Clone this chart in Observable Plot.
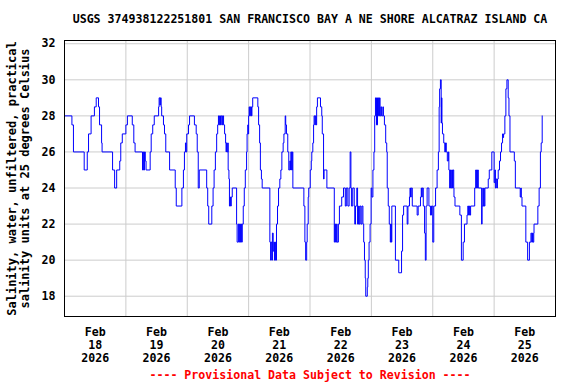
<!DOCTYPE html>
<html><head><meta charset="utf-8">
<script src="https://cdn.jsdelivr.net/npm/d3@7"></script>
<script src="https://cdn.jsdelivr.net/npm/@observablehq/plot@0.6"></script>
<style>body{margin:0;background:#fff;}</style>
</head><body><div id="chart"></div>
<script>
const title = "USGS 374938122251801 SAN FRANCISCO BAY A NE SHORE ALCATRAZ ISLAND CA";
const yLabelLines = ["Salinity, water, unfiltered, practical", "salinity units at 25 degrees Celsius"];
const caption = "---- Provisional Data Subject to Revision ----";
const monthLabel = "Feb";
const yearLabel = "2026";
const dayLabels = ["18", "19", "20", "21", "22", "23", "24", "25"];
const yTicks = [18, 20, 22, 24, 26, 28, 30, 32];

// hours since 2026-02-18 00:00 and salinity
const hours = [
0.0,2.9,3.5,7.7,8.9,9.4,10.4,11.7,12.4,13.3,13.7,14.5,14.7,18.8,19.6,20.4,21.6,22.0,22.6,24.0,
24.6,26.5,27.1,27.6,30.5,30.8,31.0,31.3,31.6,31.9,33.5,33.9,34.5,35.1,36.8,37.0,37.3,37.5,37.8,38.0,
38.7,39.1,39.6,41.1,43.3,43.7,45.9,46.5,46.9,47.3,47.5,47.8,48.5,48.9,50.8,51.5,51.9,52.3,52.7,55.6,
56.0,56.4,57.6,58.1,58.5,59.0,59.5,59.9,60.2,60.5,60.7,61.0,61.3,61.7,61.9,62.2,62.6,63.0,63.2,63.3,
63.6,63.9,64.0,64.3,64.5,64.8,65.0,65.2,65.6,67.3,67.5,68.0,68.3,68.5,68.8,69.1,69.3,69.5,69.9,70.3,
70.7,71.2,71.4,71.7,71.8,72.0,72.2,72.4,72.7,73.1,73.3,73.6,75.6,75.9,76.3,76.6,77.0,77.3,80.3,80.6,
80.8,81.1,81.3,81.6,81.9,82.1,82.4,82.6,82.9,83.3,83.7,84.2,84.6,85.0,85.5,85.8,86.3,86.5,86.8,87.3,
87.7,88.1,88.4,88.5,88.8,89.1,89.3,93.6,94.0,94.3,94.7,94.9,95.3,95.5,96.1,96.5,96.7,97.1,97.4,97.6,
97.9,98.1,98.4,98.6,98.9,100.1,100.6,100.8,101.3,101.5,102.6,105.5,105.7,106.0,106.4,106.6,107.1,107.5,108.4,109.1,
109.8,110.2,110.8,111.3,111.7,112.0,112.2,112.7,113.3,113.5,113.8,114.3,114.6,115.0,115.2,115.5,115.9,116.3,116.7,117.0,
117.3,117.6,117.8,118.4,118.6,118.8,119.1,119.5,119.9,120.2,120.6,121.0,121.3,121.6,122.0,122.4,122.8,123.2,123.4,123.7,
124.0,124.5,124.7,125.1,125.6,126.0,126.2,126.6,127.0,127.4,127.6,127.8,128.0,129.4,130.7,131.8,132.2,132.6,134.0,134.3,
134.9,135.1,135.3,135.6,136.0,137.9,138.3,139.2,139.5,139.7,139.9,140.3,140.8,141.1,141.4,141.8,142.5,143.1,143.5,144.0,
144.4,145.1,145.7,146.2,146.5,146.7,147.0,147.3,147.4,147.6,147.8,148.3,148.7,149.0,149.3,149.7,150.1,150.3,150.6,150.9,
151.1,151.4,151.7,151.9,152.2,152.3,152.7,154.6,155.2,155.9,156.4,157.4,157.7,158.0,158.3,158.5,158.8,160.4,160.8,161.0,
161.2,161.4,161.6,161.8,163.1,163.3,163.6,163.7,164.0,164.1,164.4,165.7,166.1,167.1,167.9,168.0,168.3,168.5,168.8,169.1,
169.3,169.6,170.1,170.5,170.9,171.3,171.5,171.7,172.2,172.6,173.0,173.5,173.8,174.2,175.9,176.3,178.2,178.5,178.6,178.9,
180.4,181.1,181.8,182.4,182.7,183.0,183.2,183.5,183.6,185.1,185.6,186.1,186.4,186.8
];
const salinity = [
28,27.5,26,25,26,27,28,28.5,29,28.5,27.5,26.5,26,25,24,25,25.5,26.5,27,27.5,
28,27.5,26.5,26,25,26,25,26,25.5,25,26,27,27.5,28,28.5,29,28.6,29,28.5,28,
27.5,27,26,25,24,23,24,25,26,26.5,26,27,27.5,28,27.5,27,26,24,25,24,
23,22,23,24,25,26,27,27.5,28,27.5,28,27.5,28,27.5,28,27.5,27,26.5,26,26.5,
26,26.5,25,24.5,23,23.5,23,23.5,24,22,21,22,21,22,21,22,21,22,23,24,
25,26,27,27.5,27,28,28.5,28,28.5,28,28.5,29,28.5,27.5,26.5,25,24.5,24,21,20,
21,20,21.5,20.5,21,20,21,20,22,23,24,24.5,25,26,26.5,27,28,27.5,27,26,
25,25.5,25,26,25,26,24,23,21,20,21,22,23.5,24,25,25.5,26,26.5,27.5,28,
27.5,28,27.5,28.5,29,28.5,28,27,24.5,25,24,21,22,21,22,21,22,23,23.5,24,
23,24,23,24,26,24,23,24,23,22,23,24,22,23,22,23,22,23,22,21,
20,19,18,18.5,19,20,21,22,24,23.5,25,26,28,29,27.5,29,28,29,28,28.5,
28,28.5,28,27.5,26.5,26,24,23,22,21,22,21,23,20,19.3,20.5,22.5,23,22,23,
23.5,24,23.5,24,23,22.5,23,23.5,24,23.5,24,23,21.5,20,23,24,23,22.5,23,21,
23,24,25,26,28.5,29.5,30,27.6,29,27.6,27,26.5,26,26.5,26,25.5,26,25,24,25,
24,25,24,25,24,23.5,23,22.5,20,21,22,22.5,23,22.5,23,22.5,23,24,25,24,
25,24,25,24,22,23,24,23,24,23,24,24.5,25,26,26,24.3,25,24,24.5,24,
24.5,25,25.5,26,26.5,27,26.8,27,28,29.5,30,29,28,26,25.5,24,23.5,24,23.5,23,
21,20,21,21.5,21,21.5,21,21.5,22,23,24,26,26.5,28
];

const t0 = Date.UTC(2026, 1, 18);
const DAY = 864e5;
const data = hours.map((h, i) => ({date: new Date(t0 + h * 3600e3), value: salinity[i]}));
const midnights = d3.range(1, dayLabels.length).map(d => new Date(t0 + d * DAY));
const noons = dayLabels.map((d, i) => new Date(t0 + (i + 0.5) * DAY));
const font = "'DejaVu Sans Mono', 'Liberation Mono', monospace";

const chart = Plot.plot({
  width: 576, height: 384,
  marginLeft: 64, marginRight: 21, marginTop: 40, marginBottom: 68,
  style: {fontFamily: font, fontSize: "11.6px", fontWeight: "bold", background: "#fff", color: "#000"},
  x: {type: "utc", domain: [new Date(t0), new Date(t0 + dayLabels.length * DAY)]},
  y: {domain: [16.875, 32.18]},
  marks: [
    Plot.gridX(midnights, {stroke: "#cccccc", strokeOpacity: 1}),
    Plot.gridY(yTicks, {stroke: "#cccccc", strokeOpacity: 1}),
    Plot.line(data, {x: "date", y: "value", stroke: "#0000ff", strokeWidth: 1, curve: "step-after"}),
    Plot.frame({stroke: "#000"}),
    Plot.axisY(yTicks, {tickSize: 0, tickPadding: 9, label: null, fill: "#000"}),
    Plot.axisX(noons, {
      tickSize: 0, tickPadding: 10, label: null, lineHeight: 1.12, fill: "#000",
      tickFormat: d => `${monthLabel}\n${dayLabels[Math.floor((d - t0) / DAY)]}\n${yearLabel}`
    }),
    Plot.text([yLabelLines.join("\n")], {frameAnchor: "left", dx: -46, rotate: -90, textAnchor: "middle", lineAnchor: "middle", lineHeight: 1.05, fontSize: 12, fill: "#000"}),
    Plot.text([title], {frameAnchor: "top", dy: -21, lineAnchor: "middle", fill: "#000"}),
    Plot.text([caption], {frameAnchor: "bottom", dy: 59, lineAnchor: "middle", fill: "#ff0000"})
  ]
});
document.getElementById("chart").appendChild(chart);
</script>
</body></html>
